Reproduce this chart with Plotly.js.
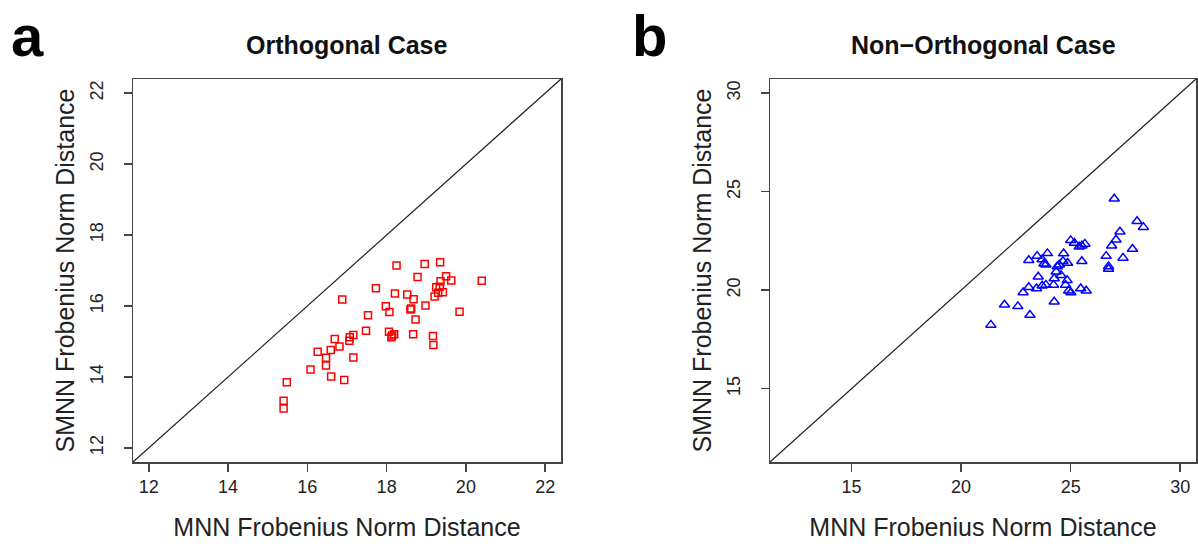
<!DOCTYPE html>
<html>
<head>
<meta charset="utf-8">
<script src="https://cdn.plot.ly/plotly-3.0.1.min.js"></script>
<style>html,body{margin:0;padding:0;background:#fff;}#chart{width:1198px;height:546px;}</style>
</head>
<body>
<div id="chart"></div>
<script>
// Panel a: Orthogonal case
const mnnOrtho = [15.40,15.40,15.48,16.08,16.26,16.47,16.47,16.59,16.60,16.69,16.81,16.88,16.93,17.06,17.07,17.16,17.16,17.48,17.53,17.73,17.98,18.07,18.06,18.14,18.12,18.19,18.21,18.25,18.52,18.60,18.62,18.68,18.67,18.73,18.78,18.96,18.98,19.17,19.18,19.21,19.25,19.35,19.36,19.34,19.30,19.42,19.50,19.63,19.84,20.40];
const smnnOrtho = [13.33,13.11,13.85,14.21,14.71,14.54,14.32,14.76,14.01,15.07,14.86,16.18,13.91,15.02,15.12,15.18,14.55,15.30,15.74,16.50,15.99,15.83,15.27,15.17,15.12,15.20,16.35,17.14,16.32,15.90,15.93,16.19,15.20,15.62,16.82,17.18,16.01,15.15,14.90,16.27,16.53,17.23,16.70,16.54,16.37,16.39,16.84,16.72,15.84,16.71];
// Panel b: Non-orthogonal case
const mnnNonOrtho = [21.36,21.98,22.59,23.14,22.83,23.09,23.44,23.09,23.47,23.52,23.70,23.78,23.87,23.94,23.70,23.87,24.22,24.25,24.25,24.34,24.39,24.48,24.56,24.68,24.65,24.86,24.84,24.77,24.91,25.01,25.00,25.17,25.39,25.51,25.65,25.51,25.46,25.71,26.62,26.73,26.73,26.87,26.99,27.07,27.25,27.39,27.82,28.03,28.32];
const smnnNonOrtho = [18.24,19.26,19.18,18.74,19.88,20.15,20.09,21.52,21.73,20.68,20.23,21.34,21.29,21.87,21.56,20.27,20.27,19.41,20.59,20.94,21.20,21.29,20.76,21.86,21.47,21.38,20.50,20.27,19.97,19.88,22.53,22.40,22.21,22.26,22.35,21.47,20.09,19.97,21.73,21.20,21.08,22.26,24.64,22.56,22.97,21.64,22.09,23.50,23.20];
const ticksA = [12,14,16,18,20,22];
const ticksB = [15,20,25,30];
const rangeA = [11.6, 22.4];
const rangeB = [11.28, 30.72];

const W = 1198, H = 546;
const mt = 79, mb = 84;
const plotH = H - mt - mb;
const domA = [133 / W, 561 / W];
const domB = [770 / W, 1196 / W];

const font = 'Liberation Sans, Arial, Helvetica, sans-serif';
const axisColor = '#444';

function axisBase(range, ticks) {
  return {
    range: range,
    tickmode: 'array',
    tickvals: ticks,
    ticktext: ticks.map(String),
    showgrid: false,
    zeroline: false,
    showline: true,
    mirror: true,
    linecolor: axisColor,
    linewidth: 1.5,
    ticks: 'outside',
    ticklen: 8,
    tickwidth: 1.5,
    tickcolor: axisColor,
    tickfont: {family: font, size: 18, color: '#222'},
    automargin: false,
    fixedrange: true
  };
}

const traces = [
  {
    x: mnnOrtho, y: smnnOrtho, xaxis: 'x', yaxis: 'y',
    type: 'scatter', mode: 'markers',
    marker: {symbol: 'square-open', size: 7, color: '#ff0000', line: {width: 1.5, color: '#ff0000'}},
    showlegend: false, hoverinfo: 'x+y'
  },
  {
    x: mnnNonOrtho, y: smnnNonOrtho, xaxis: 'x2', yaxis: 'y2',
    type: 'scatter', mode: 'markers',
    marker: {symbol: 'triangle-up-open', size: 9, color: '#0000ff', line: {width: 1.5, color: '#0000ff'}},
    showlegend: false, hoverinfo: 'x+y'
  }
];

const titleFont = {family: font, size: 25, color: '#222'};
const xa = Object.assign(axisBase(rangeA, ticksA), {domain: domA, anchor: 'y',
  title: {text: 'MNN Frobenius Norm Distance', font: titleFont, standoff: 22}});
const ya = Object.assign(axisBase(rangeA, ticksA), {domain: [0, 1], anchor: 'x', tickangle: -90, ticklabelstandoff: 13,
  title: {text: 'SMNN Frobenius Norm Distance', font: titleFont, standoff: 5}});
const xb = Object.assign(axisBase(rangeB, ticksB), {domain: domB, anchor: 'y2',
  title: {text: 'MNN Frobenius Norm Distance', font: titleFont, standoff: 22}});
const yb = Object.assign(axisBase(rangeB, ticksB), {domain: [0, 1], anchor: 'x2', tickangle: -90, ticklabelstandoff: 13,
  title: {text: 'SMNN Frobenius Norm Distance', font: titleFont, standoff: 5}});

const titleY = 1 + (mt - 45) / plotH;
const letterY = 1 + (mt - 1) / plotH;

const layout = {
  width: W, height: H,
  margin: {l: 0, r: 0, t: mt, b: mb, pad: 0},
  paper_bgcolor: '#fff', plot_bgcolor: '#fff',
  xaxis: xa, yaxis: ya, xaxis2: xb, yaxis2: yb,
  showlegend: false,
  shapes: [
    {type: 'line', xref: 'x domain', yref: 'y domain', x0: 0, y0: 0, x1: 1, y1: 1, line: {color: '#222', width: 1.2}},
    {type: 'line', xref: 'x2 domain', yref: 'y2 domain', x0: 0, y0: 0, x1: 1, y1: 1, line: {color: '#222', width: 1.2}}
  ],
  annotations: [
    {text: '<b>Orthogonal Case</b>', xref: 'x domain', yref: 'paper', x: 0.5, y: titleY, xanchor: 'center', yanchor: 'middle', showarrow: false, font: {family: font, size: 25, color: '#111'}},
    {text: '<b>Non\u2212Orthogonal Case</b>', xref: 'x2 domain', yref: 'paper', x: 0.5, y: titleY, xanchor: 'center', yanchor: 'middle', showarrow: false, font: {family: font, size: 25, color: '#111'}},
    {text: '<b>a</b>', xref: 'paper', yref: 'paper', x: 27 / W, y: letterY, xanchor: 'center', yanchor: 'top', showarrow: false, font: {family: font, size: 58, color: '#000'}},
    {text: '<b>b</b>', xref: 'paper', yref: 'paper', x: 649 / W, y: letterY, xanchor: 'center', yanchor: 'top', showarrow: false, font: {family: font, size: 58, color: '#000'}}
  ]
};

Plotly.newPlot('chart', traces, layout, {displayModeBar: false, staticPlot: true});
</script>
</body>
</html>
